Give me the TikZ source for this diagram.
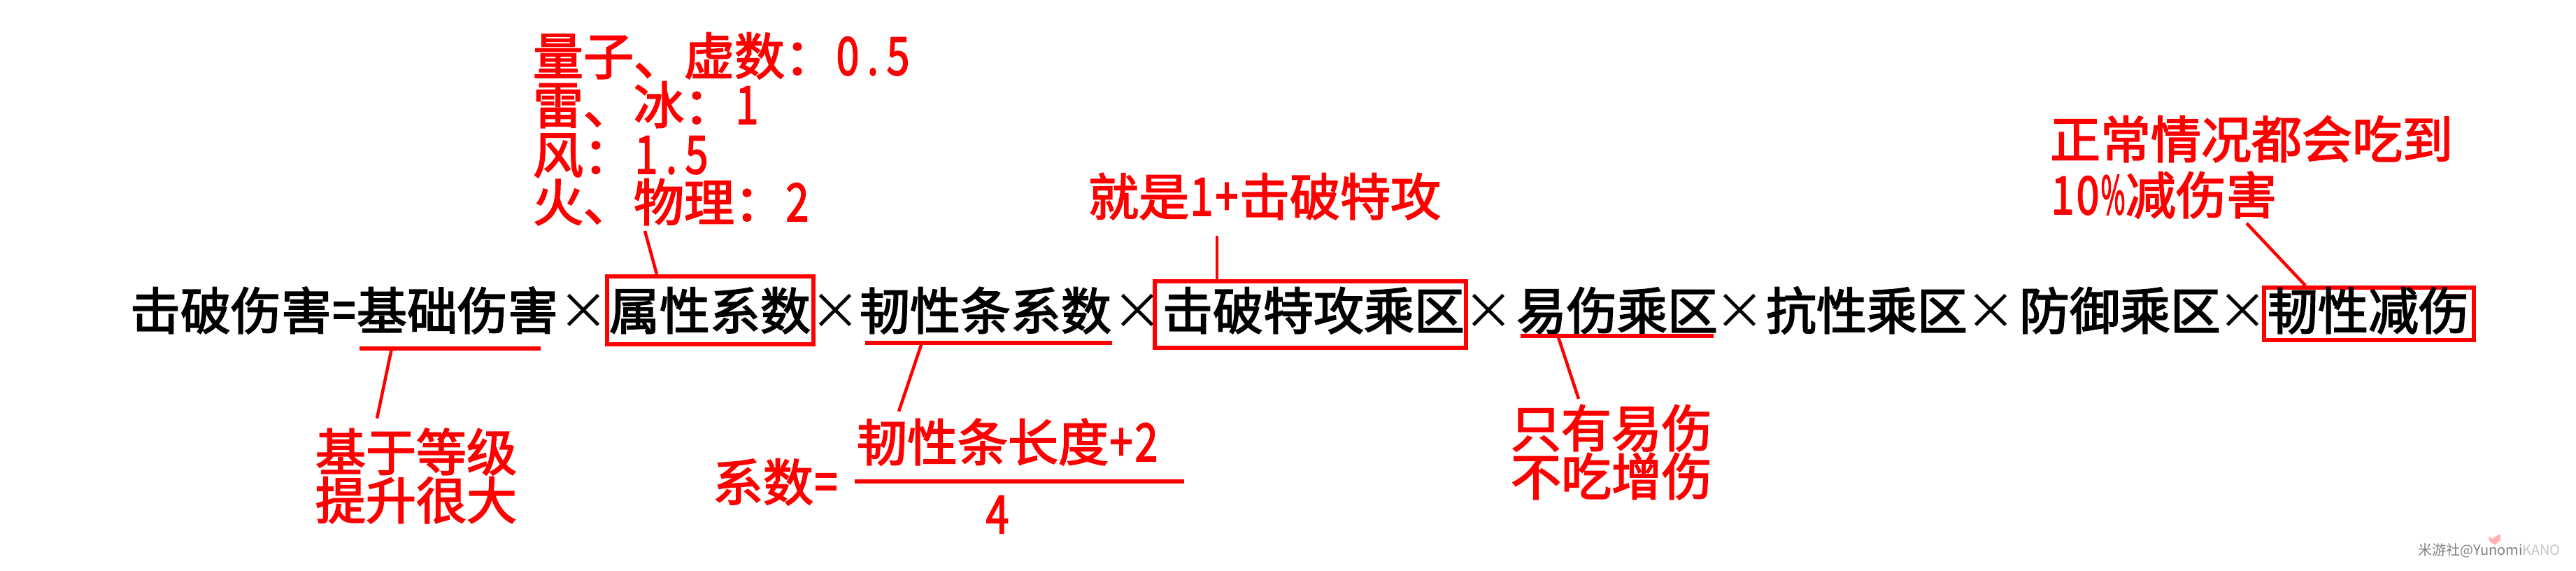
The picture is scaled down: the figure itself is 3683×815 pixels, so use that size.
\documentclass[tikz,border=0pt]{standalone}
\usepackage{fontspec}
\setmainfont{Noto Sans CJK SC}
\newfontfamily\cjkb{Noto Sans CJK SC}[FakeBold=2.5]
\newfontfamily\cjkw{Noto Sans CJK SC}
\newcommand{\hw}[1]{\makebox[36pt][c]{\scalebox{0.82}[1.04]{#1}}}
\definecolor{rd}{RGB}{255,0,0}
\tikzset{
  txt/.style={inner sep=0pt,outer sep=0pt,anchor=base west,font={\cjkb\fontsize{72pt}{72pt}\selectfont}},
  blacktxt/.style={txt,text=black},
  redtxt/.style={txt,text=rd},
  times/.style={inner sep=0pt,outer sep=0pt,anchor=center,text=black,font={\cjkw\fontsize{72pt}{72pt}\selectfont}},
  redbox/.style={draw=rd,line width=6pt,inner sep=0pt,outer sep=0pt,fill=none},
  ruleline/.style={draw=rd,line width=6pt},
  conn/.style={draw=rd,line width=4.5pt},
}
\begin{document}
\begin{tikzpicture}[x=1pt,y=-1pt]
\useasboundingbox (0,0) rectangle (3683,815);
\fill[white] (0,0) rectangle (3683,815);
% boxes
\node[redbox,minimum width=295pt,minimum height=97pt] (bxA) at (1015,443.5) {};
\node[redbox,minimum width=445pt,minimum height=95pt] (bxB) at (1873,449) {};
\node[redbox,minimum width=300pt,minimum height=75pt] (bxC) at (3386.5,448) {};
% main formula
\node[blacktxt] (tTotal) at (186,471) {击破伤害\hw{=}};
\node[blacktxt] (tBase) at (510,471) {基础伤害};
\node[times] (x1) at (834,445) {×};
\node[blacktxt] (tAttr) at (871,471) {属性系数};
\node[times] (x2) at (1194,445) {×};
\node[blacktxt] (tTough) at (1229,471) {韧性条系数};
\node[times] (x3) at (1626,445) {×};
\node[blacktxt] (tBreak) at (1662,471) {击破特攻乘区};
\node[times] (x4) at (2128,445) {×};
\node[blacktxt] (tVuln) at (2168,471) {易伤乘区};
\node[times] (x5) at (2487,445) {×};
\node[blacktxt] (tRes) at (2525,471) {抗性乘区};
\node[times] (x6) at (2846,445) {×};
\node[blacktxt] (tDef) at (2887,471) {防御乘区};
\node[times] (x7) at (3206,445) {×};
\node[blacktxt] (tRed) at (3242,471) {韧性减伤};
% red annotations
\node[redtxt] (aQ) at (762,107) {量子、虚数：\hw{0}\hw{.}\hw{5}};
\node[redtxt] (aT) at (762,177) {雷、冰：\hw{1}};
\node[redtxt] (aW) at (762,248) {风：\hw{1}\hw{.}\hw{5}};
\node[redtxt] (aF) at (762,316) {火、物理：\hw{2}};
\node[redtxt] (aL1) at (451,673) {基于等级};
\node[redtxt] (aL2) at (451,742) {提升很大};
\node[redtxt] (aS) at (1019,716) {系数\hw{=}};
\node[redtxt] (aNum) at (1225,659) {韧性条长度\hw{+}\hw{2}};
\node[redtxt] (aDen) at (1408,762) {\hw{4}};
\node[redtxt] (aB) at (1556,308) {就是\hw{1}\hw{+}击破特攻};
\node[redtxt] (aV1) at (2160,639) {只有易伤};
\node[redtxt] (aV2) at (2160,708) {不吃增伤};
\node[redtxt] (aR1) at (2931,226) {正常情况都会吃到};
\node[redtxt] (aR2) at (2931,306) {\hw{1}\hw{0}\makebox[36pt][c]{\scalebox{0.52}[1.04]{\%}}减伤害};
% underlines and fraction bar
\coordinate (u1a) at (514,498); \coordinate (u1b) at (773,498);
\coordinate (u2a) at (1237,490); \coordinate (u2b) at (1590,490);
\coordinate (u3a) at (2174,480); \coordinate (u3b) at (2450,480);
\coordinate (fa) at (1222,688); \coordinate (fb) at (1693,688);
\draw[ruleline] (u1a) -- (u1b);
\draw[ruleline] (u2a) -- (u2b);
\draw[ruleline] (u3a) -- (u3b);
\draw[ruleline] (fa) -- (fb);
% connectors
\coordinate (c1) at (560,498); \coordinate (c1e) at (539,598);
\coordinate (c2) at (922,330); \coordinate (c2e) at (939,392);
\coordinate (c3) at (1318,490); \coordinate (c3e) at (1285,588);
\coordinate (c4) at (1740,337); \coordinate (c4e) at (1740,400);
\coordinate (c5) at (2228,482); \coordinate (c5e) at (2257,570);
\coordinate (c6) at (3212,319); \coordinate (c6e) at (3296,408);
\draw[conn] (c1) -- (c1e);
\draw[conn] (c2) -- (c2e);
\draw[conn] (c3) -- (c3e);
\draw[conn] (c4) -- (c4e);
\draw[conn] (c5) -- (c5e);
\draw[conn] (c6) -- (c6e);
% watermark
\fill[red!30] (3558,766) -- (3563,770) -- (3567,767) -- (3575,763) -- (3575,772) -- (3567,779) -- (3559,773) -- cycle;
\node[inner sep=0pt,anchor=base west,font={\cjkw\fontsize{20pt}{20pt}\selectfont},text=black!50] (wm) at (3457,793) {米游社@Yunomi\textcolor{black!22}{KANO}};
\end{tikzpicture}
\end{document}
